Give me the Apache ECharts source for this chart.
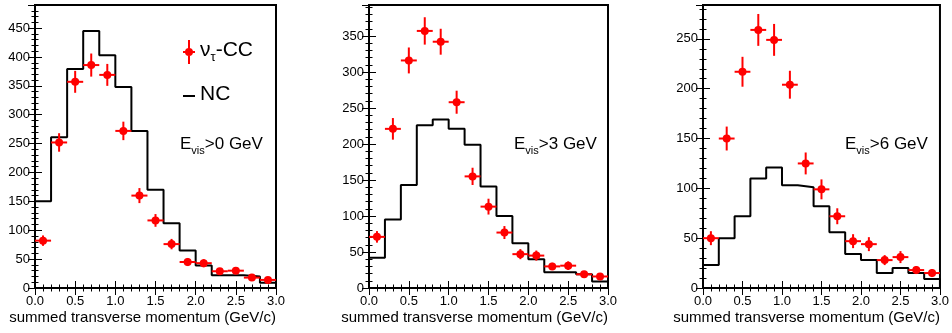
<!DOCTYPE html>
<html><head><meta charset="utf-8">
<script src="https://cdn.jsdelivr.net/npm/echarts@6/dist/echarts.min.js"></script>
<style>html,body{margin:0;padding:0;background:#fff}#c{width:952px;height:333px}</style>
</head><body><div id="c"></div>
<script>
// ---- data ----
const binEdges = [0.0,0.2,0.4,0.6,0.8,1.0,1.2,1.4,1.6,1.8,2.0,2.2,2.4,2.6,2.8,3.0];
const binCenters = [0.1,0.3,0.5,0.7,0.9,1.1,1.3,1.5,1.7,1.9,2.1,2.3,2.5,2.7,2.9];
const xTickLabels = ['0.0','0.5','1.0','1.5','2.0','2.5','3.0'];

// E_vis > 0 GeV
const nc0  = [150,261,379,445,403,348,272,170,112,65,39,22,22,20,9];
const cc0  = [82,252,357,386,369,272,160,117,76,45,43,29,30,18,14];
const err0 = [9,16,19,20,19,16,13,11,9,7,7,5,5,4,4];
// E_vis > 3 GeV
const nc3  = [42,95,143,226,234,221,199,141,100,62,40,22,22,19,9];
const cc3  = [71,221,316,357,342,258,155,113,77,47,45,30,31,19,16];
const err3 = [8,15,18,19,18,16,12,11,9,7,7,5,6,4,4];
// E_vis > 6 GeV
const nc6  = [23,50,72,110,121,103,101,82,56,34,28,15,20,15,9];
const cc6  = [50,150,217,259,249,204,125,99,72,47,44,28,31,18,15];
const err6 = [7,12,15,16,16,14,11,10,8,7,7,5,6,4,4];

const yMaxes = [490, 393, 284];
const cutLabels = ['>0 GeV', '>3 GeV', '>6 GeV'];
const seriesNames = ['ντ-CC', 'NC'];
const xTitle = 'summed transverse momentum (GeV/c)';

// ---- layout ----
const layout = [
  {left: 35, width: 241, textLeft: 180},
  {left: 369, width: 239, textLeft: 514},
  {left: 703, width: 238, textLeft: 845}
];
const gridTop = 5, gridBottomY = 288;
const FONT = 'Liberation Sans, Arial, Helvetica, sans-serif';

const ncSets = [nc0, nc3, nc6], ccSets = [cc0, cc3, cc6], errSets = [err0, err3, err6];

const grids = [], xAxes = [], yAxes = [], series = [], titles = [];
const BLACK = '#000';

layout.forEach((L, i) => {
  grids.push({left: L.left, width: L.width, top: gridTop, height: gridBottomY - gridTop,
    show: true, borderColor: BLACK, borderWidth: 2, backgroundColor: 'transparent', containLabel: false});
  const xBase = {gridIndex: i, type: 'value', min: 0, max: 3, splitLine: {show: false}, axisLine: {show: false}};
  const yBase = {gridIndex: i, type: 'value', min: 0, max: yMaxes[i], splitLine: {show: false}, axisLine: {show: false}};
  const xi = xAxes.length;
  xAxes.push(Object.assign({}, xBase, {position: 'bottom', interval: 0.5,
    axisTick: {inside: true, length: 7, lineStyle: {color: BLACK, width: 1}},
    axisLabel: {color: BLACK, fontSize: 13, fontFamily: FONT, margin: 7, formatter: v => xTickLabels[Math.round(v / 0.5)]},
    name: xTitle, nameLocation: 'end', nameGap: 0,
    nameTextStyle: {color: BLACK, fontSize: 15, fontFamily: FONT, align: 'right', verticalAlign: 'top', padding: [22, 0, 0, 0]}}));
  xAxes.push(Object.assign({}, xBase, {position: 'bottom', interval: 0.1,
    axisTick: {inside: true, length: 3.5, lineStyle: {color: BLACK, width: 1}}, axisLabel: {show: false}}));
  xAxes.push(Object.assign({}, xBase, {position: 'top', interval: 0.5,
    axisTick: {inside: true, length: 7, lineStyle: {color: BLACK, width: 1}}, axisLabel: {show: false}}));
  xAxes.push(Object.assign({}, xBase, {position: 'top', interval: 0.1,
    axisTick: {inside: true, length: 3.5, lineStyle: {color: BLACK, width: 1}}, axisLabel: {show: false}}));
  const yi = yAxes.length;
  yAxes.push(Object.assign({}, yBase, {position: 'left', interval: 50,
    axisTick: {inside: true, length: 7, lineStyle: {color: BLACK, width: 1}},
    axisLabel: {color: BLACK, fontSize: 13, fontFamily: FONT, margin: 5, showMaxLabel: false}}));
  yAxes.push(Object.assign({}, yBase, {position: 'left', interval: 10,
    axisTick: {inside: true, length: 3.5, lineStyle: {color: BLACK, width: 1}}, axisLabel: {show: false}}));
  yAxes.push(Object.assign({}, yBase, {position: 'right', interval: 50,
    axisTick: {inside: true, length: 7, lineStyle: {color: BLACK, width: 1}}, axisLabel: {show: false}}));
  yAxes.push(Object.assign({}, yBase, {position: 'right', interval: 10,
    axisTick: {inside: true, length: 3.5, lineStyle: {color: BLACK, width: 1}}, axisLabel: {show: false}}));

  // NC histogram
  const nc = ncSets[i];
  const histData = [[binEdges[0], 0]];
  nc.forEach((v, k) => histData.push([binEdges[k], v]));
  histData.push([binEdges[binEdges.length - 1], nc[nc.length - 1]]);
  histData.push([binEdges[binEdges.length - 1], 0]);
  series.push({name: seriesNames[1], type: 'line', step: 'end', xAxisIndex: xi, yAxisIndex: yi,
    data: histData, showSymbol: false, symbol: 'none', color: BLACK,
    lineStyle: {color: BLACK, width: 2}, z: 3, animation: false});

  // nu_tau CC points with error bars
  const cc = ccSets[i], er = errSets[i];
  const ptData = cc.map((v, k) => [binCenters[k], v, er[k], binEdges[k], binEdges[k + 1]]);
  series.push({name: seriesNames[0], type: 'custom', xAxisIndex: xi, yAxisIndex: yi,
    data: ptData, encode: {x: 0, y: 1}, color: '#ff0000', itemStyle: {color: '#ff0000'}, z: 4, animation: false,
    renderItem: (params, api) => {
      const x = api.value(0), y = api.value(1), e = api.value(2), xl = api.value(3), xh = api.value(4);
      const c = api.coord([x, y]), t = api.coord([x, y + e]), b = api.coord([x, y - e]);
      const l = api.coord([xl, y]), r = api.coord([xh, y]);
      const st = {stroke: '#ff0000', lineWidth: 2};
      return {type: 'group', children: [
        {type: 'line', shape: {x1: l[0], y1: c[1], x2: r[0], y2: c[1]}, style: st},
        {type: 'line', shape: {x1: c[0], y1: t[1], x2: c[0], y2: b[1]}, style: st},
        {type: 'circle', shape: {cx: c[0], cy: c[1], r: 4}, style: {fill: '#ff0000'}}
      ]};
    }});

  titles.push({text: '{e|E}{s|vis}{e|' + cutLabels[i] + '}', left: L.textLeft, top: 136, padding: 0,
    textStyle: {fontWeight: 'normal', rich: {
      e: {fontSize: 17, fontFamily: FONT, fontWeight: 'normal', color: BLACK, lineHeight: 20, verticalAlign: 'top'},
      s: {fontSize: 11, fontFamily: FONT, fontWeight: 'normal', color: BLACK, lineHeight: 11, verticalAlign: 'bottom'}
    }}});
});

const crossIcon = 'path://M5,0H7V24H5Z M0,11H12V13H0Z M6,8A4,4 0 1 1 5.99,8Z';
const dashIcon = 'path://M0,0H12V2H0Z';

const option = {
  animation: false,
  backgroundColor: '#fff',
  textStyle: {fontFamily: FONT},
  grid: grids, xAxis: xAxes, yAxis: yAxes, series: series, title: titles,
  legend: {
    left: 183, top: 40, orient: 'vertical', padding: 0, itemGap: 20, itemWidth: 12, itemHeight: 24,
    selectedMode: false,
    data: [{name: seriesNames[0], icon: crossIcon}, {name: seriesNames[1], icon: dashIcon}],
    formatter: name => name === seriesNames[1] ? '{a|NC}' : '{a|ν}{s|τ}{a|-CC}',
    textStyle: {color: BLACK, rich: {
      a: {fontSize: 21, fontFamily: FONT, color: BLACK, lineHeight: 24, verticalAlign: 'top'},
      s: {fontSize: 13, fontFamily: FONT, color: BLACK, lineHeight: 13, verticalAlign: 'bottom'}
    }}
  }
};
const chart = echarts.init(document.getElementById('c'), null, {renderer: 'canvas'});
chart.setOption(option);
</script></body></html>
